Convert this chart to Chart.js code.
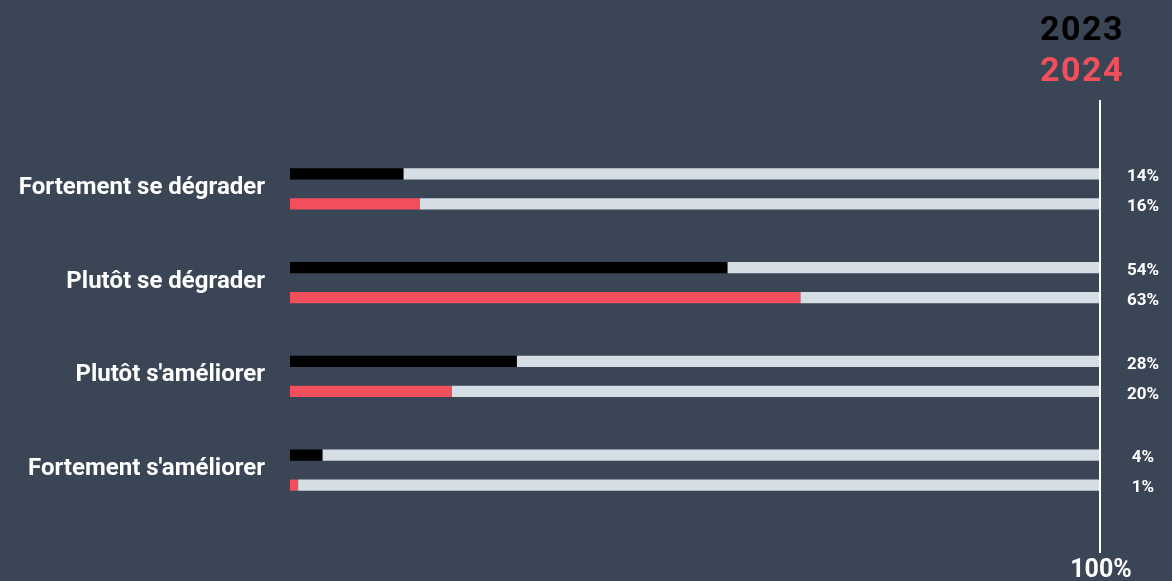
<!DOCTYPE html>
<html>
<head>
<meta charset="utf-8">
<script src="https://cdn.jsdelivr.net/npm/chart.js@4"></script>
<style>
  html, body { margin: 0; padding: 0; background: #3a4556; }
  #wrap { width: 1172px; height: 581px; position: relative; }
</style>
</head>
<body>
<div id="wrap"><canvas id="chart"></canvas></div>
<script>
const categories = ['Fortement se dégrader', 'Plutôt se dégrader', "Plutôt s'améliorer", "Fortement s'améliorer"];
const years = ['2023', '2024'];
const values2023 = [14, 54, 28, 4];
const values2024 = [16, 63, 20, 1];
const axisMax = 100;

const yearColors = ['#000000', '#f04f5b'];
const restColor = '#d5dde5';

// remainder up to 100% drawn in grey behind each bar
const rest = (arr) => arr.map(v => axisMax - v);

// value labels, year legend, the 100% line
const extras = {
  id: 'extras',
  afterDatasetsDraw(chart) {
    const ctx = chart.ctx;
    const x = chart.scales.x;
    const lineX = x.getPixelForValue(axisMax);
    ctx.save();

    ctx.strokeStyle = '#ffffff';
    ctx.lineWidth = 2;
    ctx.beginPath();
    ctx.moveTo(lineX, 100);
    ctx.lineTo(lineX, 553);
    ctx.stroke();

    ctx.fillStyle = '#ffffff';
    ctx.font = 'bold 25px Roboto';
    ctx.textAlign = 'center';
    ctx.textBaseline = 'alphabetic';
    ctx.fillText('100%', lineX + 1, 577);

    ctx.font = 'bold 17px Roboto';
    ctx.textBaseline = 'middle';
    [[0, values2023], [2, values2024]].forEach(([di, vals]) => {
      chart.getDatasetMeta(di).data.forEach((bar, i) => {
        ctx.fillText(vals[i] + '%', 1143, bar.y + 3);
      });
    });

    ctx.font = 'bold 34px Roboto';
    ctx.letterSpacing = '1.5px';
    ctx.textAlign = 'right';
    ctx.fillStyle = yearColors[0];
    ctx.fillText(years[0], 1124, 31);
    ctx.fillStyle = yearColors[1];
    ctx.fillText(years[1], 1124, 72);
    ctx.restore();
  }
};

const ctx = document.getElementById('chart').getContext('2d');
const chart = new Chart(ctx, {
  type: 'bar',
  data: {
    labels: categories,
    datasets: [
      { label: years[0], data: values2023, backgroundColor: yearColors[0], stack: 'a' },
      { label: 'reste', data: rest(values2023), backgroundColor: restColor, stack: 'a' },
      { label: years[1], data: values2024, backgroundColor: yearColors[1], stack: 'b' },
      { label: 'reste', data: rest(values2024), backgroundColor: restColor, stack: 'b' }
    ]
  },
  options: {
    indexAxis: 'y',
    responsive: true,
    maintainAspectRatio: false,
    animation: false,
    layout: { padding: { top: 142, bottom: 64, right: 72, left: 0 } },
    datasets: {
      bar: {
        categoryPercentage: 0.64,
        barPercentage: 0.37,
        borderWidth: 0,
        inflateAmount: 0
      }
    },
    scales: {
      x: {
        stacked: true,
        min: 0,
        max: axisMax,
        display: false
      },
      y: {
        stacked: true,
        grid: { display: false },
        border: { display: false },
        afterFit(scale) { scale.width = 290; },
        ticks: {
          color: '#ffffff',
          font: { family: 'Roboto', weight: 'bold', size: 24 },
          padding: 17,
          labelOffset: -1
        }
      }
    },
    plugins: {
      legend: { display: false },
      tooltip: { enabled: false }
    }
  },
  plugins: [extras]
});
</script>
</body>
</html>
